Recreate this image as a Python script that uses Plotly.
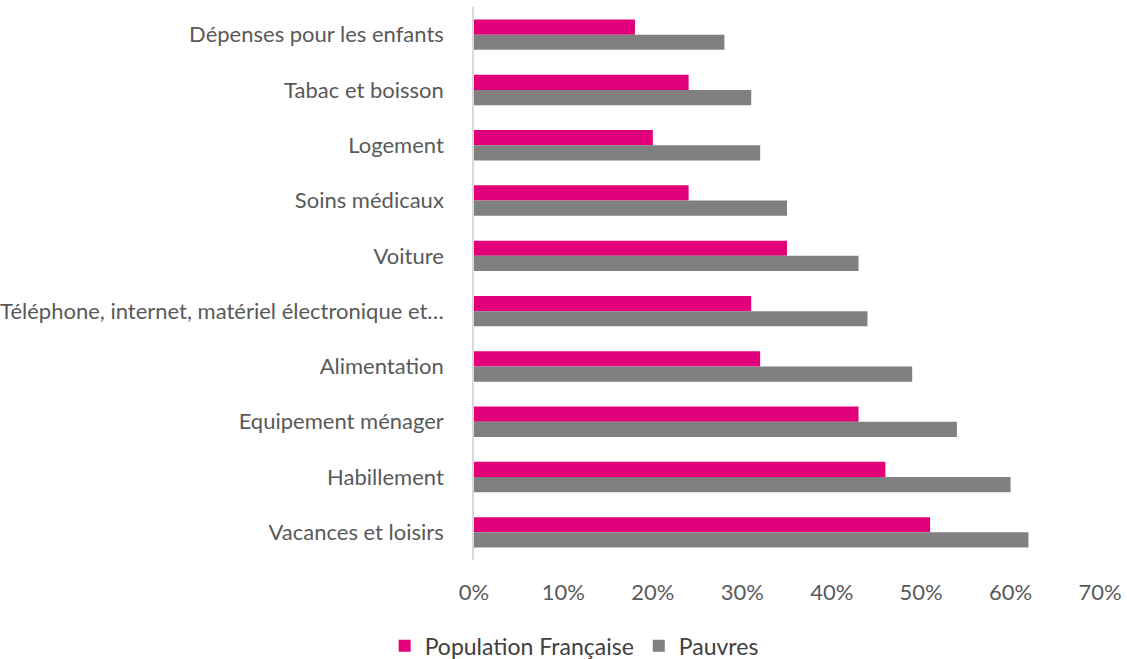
import plotly.graph_objects as go

categories = [
    "Dépenses pour les enfants",
    "Tabac et boisson",
    "Logement",
    "Soins médicaux",
    "Voiture",
    "Téléphone, internet, matériel électronique et…",
    "Alimentation",
    "Equipement ménager",
    "Habillement",
    "Vacances et loisirs",
]
population_francaise = [18, 24, 20, 24, 35, 31, 32, 43, 46, 51]
pauvres = [28, 31, 32, 35, 43, 44, 49, 54, 60, 62]
x_ticks = [0, 10, 20, 30, 40, 50, 60, 70]

FONT = "Lato"
TEXT = "#595959"

fig = go.Figure()
fig.add_trace(go.Bar(
    y=categories, x=[v / 100 for v in population_francaise], orientation="h",
    name="Population Française", marker=dict(color="#e2007a", line=dict(width=0)),
))
fig.add_trace(go.Bar(
    y=categories, x=[v / 100 for v in pauvres], orientation="h",
    name="Pauvres", marker=dict(color="#808080", line=dict(width=0)),
))

fig.update_layout(
    width=1127, height=659,
    margin=dict(l=474, r=27, t=7, b=99, autoexpand=False),
    paper_bgcolor="white", plot_bgcolor="white",
    barmode="group", bargap=0.45, bargroupgap=0,
    font=dict(family=FONT, size=22, color=TEXT),
    showlegend=True,
    legend=dict(orientation="h", x=0.16, xanchor="center",
                y=-0.155, yanchor="middle",
                font=dict(size=23, color="#404040"), itemwidth=30, traceorder="normal"),
    xaxis=dict(range=[0, 0.7], tickvals=[t / 100 for t in x_ticks],
               ticktext=[f"{t}%" for t in x_ticks], showgrid=False, zeroline=False,
               showline=False, ticks="", ticklabelstandoff=17, fixedrange=True),
    yaxis=dict(autorange="reversed", showline=True, linecolor="#d9d9d9", linewidth=1.5,
               ticks="", ticklabelstandoff=24, showgrid=False),
)

fig.write_html("out.html")
